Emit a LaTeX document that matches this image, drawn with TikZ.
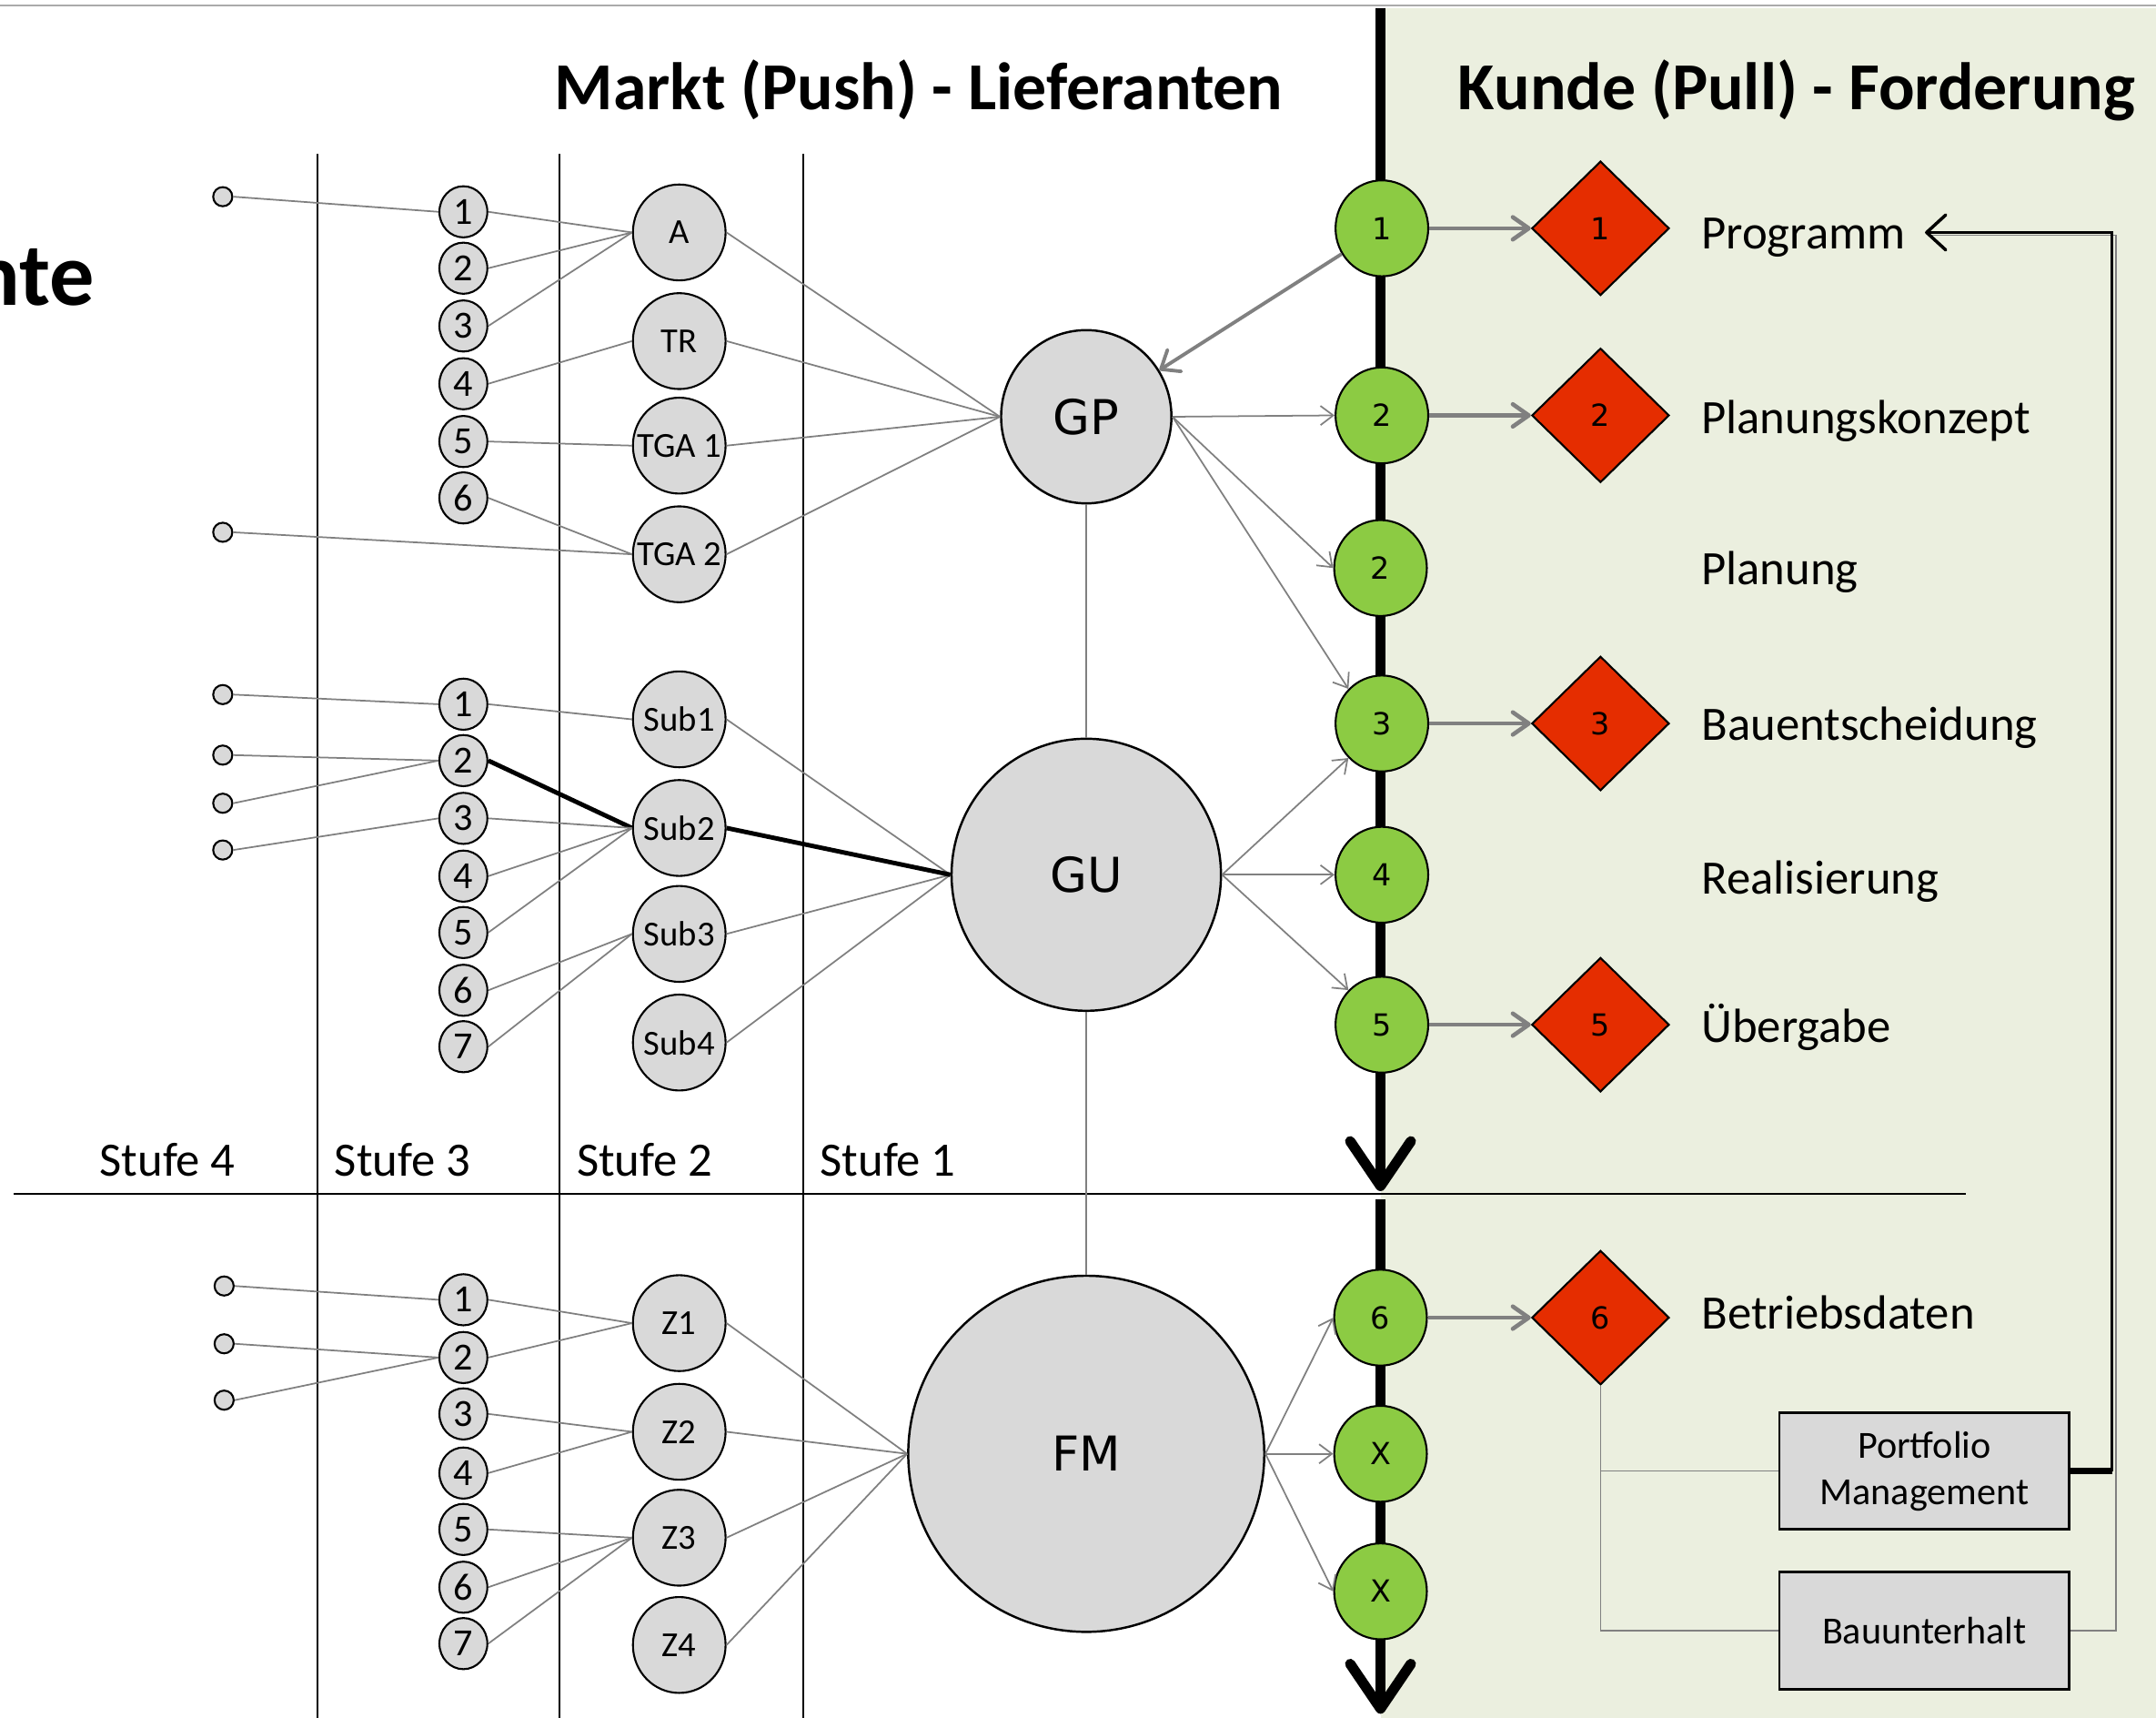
\documentclass[tikz,border=0pt]{standalone}
\usepackage{fontspec}
\setmainfont{Carlito}
\newfontfamily\vfont{DejaVu Sans}
\usetikzlibrary{shapes.geometric,arrows.meta}
\definecolor{panel}{RGB}{235,239,223}
\definecolor{nodegray}{RGB}{217,217,217}
\definecolor{grn}{RGB}{140,203,67}
\definecolor{redd}{RGB}{229,45,0}
\definecolor{conngray}{RGB}{128,128,128}
\definecolor{topline}{RGB}{170,170,170}
\begin{document}
\begin{tikzpicture}[x=0.015115cm,y=-0.015115cm,
 lfour/.style={circle,draw,line width=0.6pt,fill=nodegray,inner sep=0pt,minimum size=6pt},
 sthree/.style={ellipse,draw,line width=0.6pt,fill=nodegray,inner sep=0pt,minimum width=15pt,minimum height=16pt,font=\fontsize{12}{12}\selectfont},
 stwo/.style={ellipse,draw,line width=0.6pt,fill=nodegray,inner sep=0pt,minimum width=29pt,minimum height=30pt,font=\fontsize{11}{11}\selectfont},
 bignode/.style={ellipse,draw,line width=0.7pt,fill=nodegray,inner sep=0pt,font=\vfont\fontsize{15}{15}\selectfont},
 gcirc/.style={ellipse,draw,line width=0.6pt,fill=grn,inner sep=0pt,minimum width=29pt,minimum height=30pt,font=\vfont\fontsize{9.5}{9.5}\selectfont},
 rdia/.style={diamond,draw,line width=0.6pt,fill=redd,inner sep=0pt,minimum width=43pt,minimum height=42pt,font=\vfont\fontsize{9.5}{9.5}\selectfont},
 gbox/.style={rectangle,draw,line width=0.8pt,fill=nodegray,minimum width=90.7pt,minimum height=36.6pt,align=center,font=\fontsize{12}{14.5}\selectfont},
 lbl/.style={anchor=base west,inner sep=0pt,font=\fontsize{15}{15}\selectfont},
 ttl/.style={anchor=base west,inner sep=0pt,font=\fontsize{21}{21}\selectfont\bfseries},
 conn/.style={draw=conngray,line width=0.5pt},
 garrow/.style={draw=conngray,line width=0.5pt,-{Straight Barb[length=4pt,width=6pt]}},
 thickgarrow/.style={draw=conngray,line width=1.3pt,-{Straight Barb[length=5pt,width=7pt,round]}},
 axis/.style={line width=3.2pt,-{Straight Barb[length=14pt,width=19pt,round]}},
 sepline/.style={line width=0.6pt}
]
\useasboundingbox (0,0) rectangle (1568,1249);
% background panel
\fill[panel] (1004,6) rectangle (1568,1249);
\draw[topline,line width=0.5pt] (0,4) -- (1568,4);
% column separators
\coordinate (v1t) at (231,112); \coordinate (v1b) at (231,1249);
\coordinate (v2t) at (407,112); \coordinate (v2b) at (407,1249);
\coordinate (v3t) at (584,112); \coordinate (v3b) at (584,1249);
\draw[sepline] (v1t) -- (v1b);
\draw[sepline] (v2t) -- (v2b);
\draw[sepline] (v3t) -- (v3b);
\coordinate (hl) at (10,868); \coordinate (hr) at (1430,868);
\draw[sepline] (hl) -- (hr);
% main axis
\coordinate (axA) at (1004,6); \coordinate (axB) at (1004,866);
\coordinate (axC) at (1004,872); \coordinate (axD) at (1004,1246);
\draw[axis] (axA) -- (axB);
\draw[axis] (axC) -- (axD);

% titles
\node[ttl] (t1) at (403,80) {Markt (Push) - Lieferanten};
\node[ttl] (t2) at (1060,80) {Kunde (Pull) - Forderung};
\node[anchor=base east,inner sep=0pt,font=\fontsize{28}{28}\selectfont\bfseries] (nte) at (69,222) {nte};

% Stufe labels
\node[lbl] (s4) at (72,855) {Stufe 4};
\node[lbl] (s3) at (243,855) {Stufe 3};
\node[lbl] (s2) at (419,855) {Stufe 2};
\node[lbl] (s1) at (596,855) {Stufe 1};

% Stufe 4 small nodes
\node[lfour] (a1) at (162,143) {};
\node[lfour] (a2) at (162,387) {};
\node[lfour] (b1) at (162,505) {};
\node[lfour] (b2) at (162,549) {};
\node[lfour] (b3) at (162,584) {};
\node[lfour] (b4) at (162,618) {};
\node[lfour] (c1) at (163,935) {};
\node[lfour] (c2) at (163,977) {};
\node[lfour] (c3) at (163,1018) {};

% Stufe 3 numbered
\foreach \n/\y in {1/154,2/195,3/237,4/279,5/321,6/362}
  \node[sthree] (ta\n) at (337,\y) {\n};
\foreach \n/\y in {1/512,2/553,3/595,4/637,5/678,6/720,7/761}
  \node[sthree] (tb\n) at (337,\y) {\n};
\foreach \n/\y in {1/945,2/987,3/1028,4/1071,5/1112,6/1154,7/1195}
  \node[sthree] (tc\n) at (337,\y) {\n};

% Stufe 2
\node[stwo] (A) at (494,169) {\makebox[0pt]{A}};
\node[stwo] (TR) at (494,248) {\makebox[0pt]{TR}};
\node[stwo] (TGA1) at (494,324) {\makebox[0pt]{TGA 1}};
\node[stwo] (TGA2) at (494,403) {\makebox[0pt]{TGA 2}};
\node[stwo] (Sub1) at (494,523) {\makebox[0pt]{Sub1}};
\node[stwo] (Sub2) at (494,602) {\makebox[0pt]{Sub2}};
\node[stwo] (Sub3) at (494,679) {\makebox[0pt]{Sub3}};
\node[stwo] (Sub4) at (494,758) {\makebox[0pt]{Sub4}};
\node[stwo] (Z1) at (494,962) {\makebox[0pt]{Z1}};
\node[stwo] (Z2) at (494,1041) {\makebox[0pt]{Z2}};
\node[stwo] (Z3) at (494,1118) {\makebox[0pt]{Z3}};
\node[stwo] (Z4) at (494,1196) {\makebox[0pt]{Z4}};

% Stufe 1
\node[bignode,minimum width=53.3pt,minimum height=54.2pt] (GP) at (790,303) {GP};
\node[bignode,minimum width=84.3pt,minimum height=85.1pt] (GU) at (790,636) {GU};
\node[bignode,minimum width=111.4pt,minimum height=111.4pt] (FM) at (790,1057) {FM};

% green milestones
\node[gcirc] (g1) at (1005,166) {1};
\node[gcirc] (g2) at (1005,302) {2};
\node[gcirc] (g2b) at (1004,413) {2};
\node[gcirc] (g3) at (1005,526) {3};
\node[gcirc] (g4) at (1005,636) {4};
\node[gcirc] (g5) at (1005,745) {5};
\node[gcirc] (g6) at (1004,958) {6};
\node[gcirc] (gx1) at (1004,1057) {X};
\node[gcirc] (gx2) at (1004,1157) {X};

% red diamonds
\node[rdia] (d1) at (1164,166) {1};
\node[rdia] (d2) at (1164,302) {2};
\node[rdia] (d3) at (1164,526) {3};
\node[rdia] (d5) at (1164,745) {5};
\node[rdia] (d6) at (1164,958) {6};

% phase labels
\node[lbl] (lprog) at (1237,181) {Programm};
\node[lbl] (lpk) at (1237,315) {Planungskonzept};
\node[lbl] (lpl) at (1237,425) {Planung};
\node[lbl] (lbe) at (1237,538) {Bauentscheidung};
\node[lbl] (lre) at (1237,650) {Realisierung};
\node[lbl] (lue) at (1237,758) {Übergabe};
\node[lbl] (lbd) at (1237,966) {Betriebsdaten};

% boxes
\node[gbox] (pm) at (1399.5,1069.5) {Portfolio\\Management};
\node[gbox] (bu) at (1399.5,1185.5) {Bauunterhalt};

% --- connectors: Stufe 4 -> Stufe 3
\draw[conn] (a1.east) -- (ta1.west);
\draw[conn] (a2.east) -- (TGA2.west);
\draw[conn] (b1.east) -- (tb1.west);
\draw[conn] (b2.east) -- (tb2.west);
\draw[conn] (b3.east) -- (tb2.west);
\draw[conn] (b4.east) -- (tb3.west);
\draw[conn] (c1.east) -- (tc1.west);
\draw[conn] (c2.east) -- (tc2.west);
\draw[conn] (c3.east) -- (tc2.west);
% Stufe 3 -> Stufe 2
\draw[conn] (ta1.east) -- (A.west);
\draw[conn] (ta2.east) -- (A.west);
\draw[conn] (ta3.east) -- (A.west);
\draw[conn] (ta4.east) -- (TR.west);
\draw[conn] (ta5.east) -- (TGA1.west);
\draw[conn] (ta6.east) -- (TGA2.west);
\draw[conn] (tb1.east) -- (Sub1.west);
\draw[line width=1.4pt] (tb2.east) -- (Sub2.west);
\draw[conn] (tb3.east) -- (Sub2.west);
\draw[conn] (tb4.east) -- (Sub2.west);
\draw[conn] (tb5.east) -- (Sub2.west);
\draw[conn] (tb6.east) -- (Sub3.west);
\draw[conn] (tb7.east) -- (Sub3.west);
\draw[conn] (tc1.east) -- (Z1.west);
\draw[conn] (tc2.east) -- (Z1.west);
\draw[conn] (tc3.east) -- (Z2.west);
\draw[conn] (tc4.east) -- (Z2.west);
\draw[conn] (tc5.east) -- (Z3.west);
\draw[conn] (tc6.east) -- (Z3.west);
\draw[conn] (tc7.east) -- (Z3.west);
% Stufe 2 -> Stufe 1
\foreach \s in {A,TR,TGA1,TGA2} \draw[conn] (\s.east) -- (GP.west);
\foreach \s in {Sub1,Sub3,Sub4} \draw[conn] (\s.east) -- (GU.west);
\draw[line width=1.4pt] (Sub2.east) -- (GU.west);
\foreach \s in {Z1,Z2,Z3,Z4} \draw[conn] (\s.east) -- (FM.west);
% Stufe 1 vertical link
\draw[conn] (GP.south) -- (GU.north);
\draw[conn] (GU.south) -- (FM.north);
% Stufe 1 -> milestones
\draw[draw=conngray,line width=1.1pt,-{Straight Barb[length=5pt,width=8pt,round]}] (g1) -- (GP);
\draw[garrow] (GP.east) -- (g2.west);
\draw[garrow] (GP.east) -- (g2b.west);
\draw[garrow] (GP.east) -- (g3.north west);
\draw[garrow] (GU.east) -- (g3.south west);
\draw[garrow] (GU.east) -- (g4.west);
\draw[garrow] (GU.east) -- (g5.north west);
\draw[garrow] (FM.east) -- (g6.west);
\draw[garrow] (FM.east) -- (gx1.west);
\draw[garrow] (FM.east) -- (gx2.west);
% milestones -> diamonds
\draw[thickgarrow] (g1) -- (d1);
\draw[thickgarrow] (g2) -- (d2);
\draw[thickgarrow] (g3) -- (d3);
\draw[thickgarrow] (g5) -- (d5);
\draw[thickgarrow] (g6) -- (d6);
% diamond 6 -> boxes
\coordinate (dv1) at (1164,1069.5);
\coordinate (dv2) at (1164,1185.5);
\draw[conn] (d6.south) -- (dv2) -- (bu.west);
\draw[conn] (dv1) -- (pm.west);
% feedback to Programm
\coordinate (gbc) at (1539,171);
\coordinate (gbt) at (1405,171);
\draw[conn] (bu.east) -| (gbc) -- (gbt);
\coordinate (fbb) at (1536,1069.5);
\coordinate (fbc) at (1536,169);
\coordinate (ptip) at (1400,169);
\draw[line width=2pt] (pm.east) -- (fbb);
\draw[line width=1pt,-{Straight Barb[length=6pt,width=11pt,round]}] (fbb) -- (fbc) -- (ptip);
\end{tikzpicture}
\end{document}
